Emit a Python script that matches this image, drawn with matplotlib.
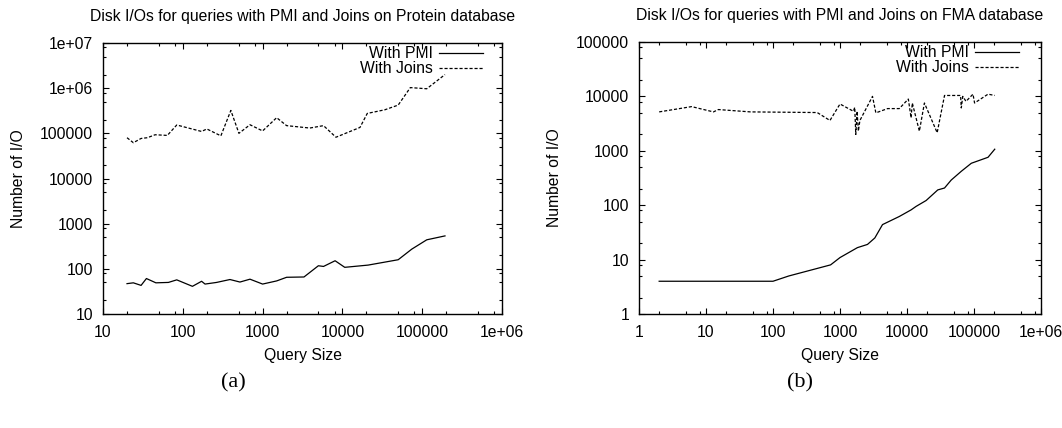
import numpy as np
import matplotlib
matplotlib.use("Agg")
import matplotlib.pyplot as plt
from matplotlib.ticker import LogLocator, NullFormatter, FixedLocator

# (a) Protein database
prot_pmi_x = [20, 24, 30, 35, 46, 66, 84, 132, 172, 190, 265, 390, 520, 695, 1000,
              1500, 2000, 3300, 5000, 5800, 8100, 10700, 21000, 50000, 74000, 114000, 193000]
prot_pmi_y = [47, 49, 43, 61, 49, 50, 57, 41, 53, 46, 50, 58, 51, 59, 46,
              54, 65, 66, 117, 113, 151, 108, 121, 159, 273, 439, 536]

prot_join_x = [20, 24, 30, 36, 45, 64, 84, 172, 200, 300, 400, 505, 695, 1000, 1500,
               2000, 3900, 5800, 8300, 16600, 20500, 34000, 50000, 71000, 114000, 193000]
prot_join_y = [80000, 62000, 77000, 80000, 93000, 90000, 153000, 110000, 125000, 88000,
               321000, 100000, 155000, 113000, 222000, 148000, 131000, 148000, 82000,
               135000, 276000, 332000, 422000, 1030000, 970000, 2000000]

# (b) FMA database
fma_pmi_x = [2, 100, 172, 724, 1000, 1820, 2570, 3310, 4310, 7670, 11500, 13650, 19300,
             28800, 36300, 45700, 64600, 91200, 162000, 204000]
fma_pmi_y = [4, 4, 5, 8, 10.9, 16.6, 19, 25, 44, 62, 82, 95, 122,
             191, 207, 290, 420, 590, 760, 1070]

fma_join_x = [2, 6.1, 12.9, 15.3, 46, 457, 708, 1000, 1585, 1660, 1720, 1800, 1880, 1980,
              3055, 3430, 5130, 7670, 10470, 11500, 12000, 15300, 18200, 28200, 36300,
              63100, 64600, 68000, 76000, 96600, 102000, 162000, 204000]
fma_join_y = [5190, 6490, 5190, 5730, 5190, 5050, 3610, 7250, 5330, 6300, 2000, 5330, 2300, 3600,
              10000, 4980, 5970, 5970, 8940, 4040, 7560, 2300, 7560, 2150, 10400,
              10400, 6140, 10000, 8100, 11000, 7560, 11000, 10400]

titles = ["Disk I/Os for queries with PMI and Joins on Protein database",
          "Disk I/Os for queries with PMI and Joins on FMA database"]
captions = ["(a)", "(b)"]

plt.rcParams['font.family'] = ['Liberation Sans', 'DejaVu Sans']
fs = 11.3

fig = plt.figure(figsize=(10.62, 4.28), dpi=100)
ax1 = fig.add_axes([103 / 1062, 114 / 428, 399 / 1062, 271 / 428])
ax2 = fig.add_axes([639 / 1062, 114 / 428, 402 / 1062, 272 / 428])


def style(ax, xlim, ylim, xt, yt):
    ax.set_xscale('log')
    ax.set_yscale('log')
    ax.set_xlim(*xlim)
    ax.set_ylim(*ylim)
    ax.xaxis.set_major_locator(FixedLocator(xt))
    ax.yaxis.set_major_locator(FixedLocator(yt))
    ax.set_xticklabels([("%g" % v) if v < 1e6 else "1e+06" for v in xt])
    ax.set_yticklabels([("%d" % v) if v < 1e6 else ("1e+%02d" % int(np.log10(v))) for v in yt])
    ax.xaxis.set_minor_locator(LogLocator(base=10, subs=(2, 5, 8)))
    ax.yaxis.set_minor_locator(LogLocator(base=10, subs=(2, 5, 8)))
    ax.xaxis.set_minor_formatter(NullFormatter())
    ax.yaxis.set_minor_formatter(NullFormatter())
    ax.tick_params(which='both', direction='in', top=True, right=True, labelsize=fs, width=0.8)
    ax.tick_params(which='major', length=4)
    ax.tick_params(which='minor', length=2)
    ax.tick_params(axis='x', which='major', pad=8)
    ax.tick_params(axis='y', which='major', pad=7)
    for s in ax.spines.values():
        s.set_linewidth(1.0)
    ax.set_xlabel("Query Size", fontsize=fs, labelpad=6)
    ax.set_ylabel("Number of I/O", fontsize=fs, labelpad=10)


style(ax1, (10, 1e6), (10, 1e7), [10, 100, 1000, 10000, 100000, 1e6],
      [10, 100, 1000, 10000, 100000, 1e6, 1e7])
style(ax2, (1, 1e6), (1, 1e5), [1, 10, 100, 1000, 10000, 100000, 1e6],
      [1, 10, 100, 1000, 10000, 100000])

ax1.plot(prot_pmi_x, prot_pmi_y, color='black', lw=0.9, label='With PMI')
ax1.plot(prot_join_x, prot_join_y, color='black', lw=0.9, dashes=(2.5, 1.5), label='With Joins')
ax2.plot(fma_pmi_x, fma_pmi_y, color='black', lw=0.9, label='With PMI')
ax2.plot(fma_join_x, fma_join_y, color='black', lw=0.9, dashes=(2.5, 1.5), label='With Joins')

for ax, t, off in zip([ax1, ax2], titles, [12.5 / 399, 16 / 402]):
    ax.set_title(t, fontsize=fs, pad=16)
    ax.legend(loc='upper right', frameon=False, markerfirst=False, fontsize=fs,
              handlelength=2.8, handletextpad=0.4, labelspacing=0.0,
              borderaxespad=0, bbox_to_anchor=(1 - off, 1 + 3 / 271))
    for txt in ax.get_legend().get_texts():
        txt.set_ha('right')

fig.text(233 / 1062, 1 - 383 / 428, captions[0], fontsize=16,
         family='Liberation Serif', ha='center', va='center')
fig.text(800 / 1062, 1 - 383 / 428, captions[1], fontsize=16,
         family='Liberation Serif', ha='center', va='center')

fig.savefig("out.png", dpi=100)
